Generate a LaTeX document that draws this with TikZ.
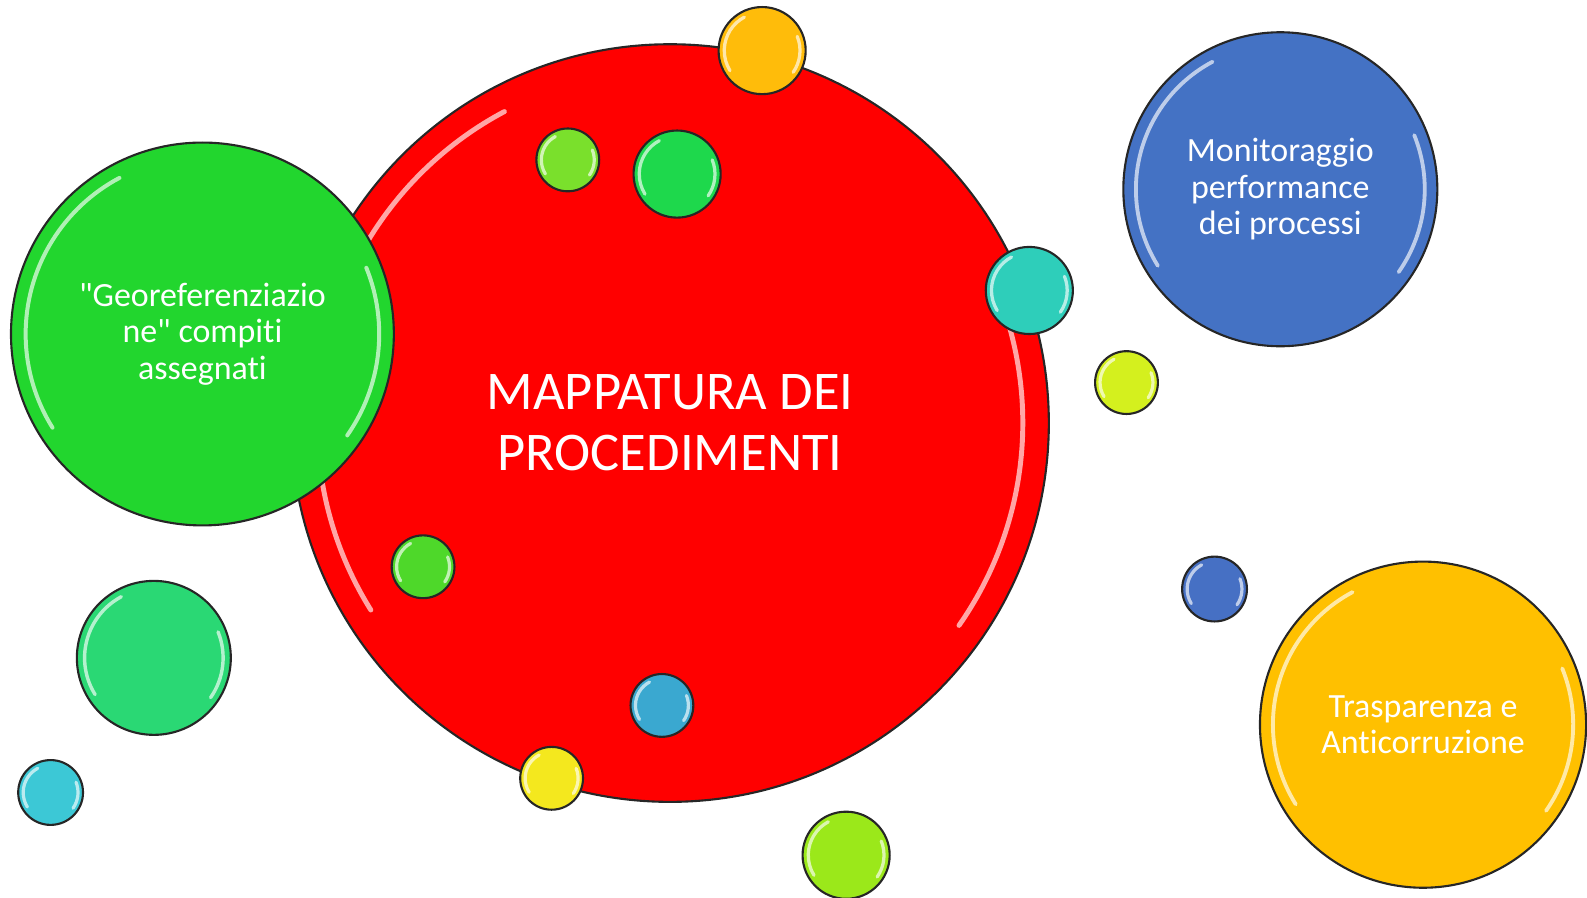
\documentclass[tikz,border=0pt]{standalone}
\usepackage{fontspec}
\setmainfont{Carlito}[Ligatures={NoCommon}]
\usetikzlibrary{calc}

\definecolor{mapred}{RGB}{255,0,0}
\definecolor{geogreen}{RGB}{34,214,46}
\definecolor{monblue}{RGB}{68,114,196}
\definecolor{traspgold}{RGB}{255,192,0}
\definecolor{dotgold}{RGB}{255,188,10}
\definecolor{dotlight}{RGB}{122,224,44}
\definecolor{dotgreen}{RGB}{30,216,76}
\definecolor{dotteal}{RGB}{46,206,186}
\definecolor{dotlime}{RGB}{212,240,30}
\definecolor{dotblue}{RGB}{70,112,196}
\definecolor{dotgrass}{RGB}{78,216,42}
\definecolor{dotmint}{RGB}{42,216,116}
\definecolor{dotcyan}{RGB}{60,200,214}
\definecolor{dotsky}{RGB}{58,168,208}
\definecolor{dotyellow}{RGB}{244,232,30}
\definecolor{dotapple}{RGB}{155,232,26}

\tikzset{
  gloss/.style={white, opacity=0.65, line cap=round},
  bubble/.style n args={2}{circle, fill=#1, draw=black!85, line width=0.6pt,
    inner sep=0pt, minimum size=#2*0.0202424cm, text=white, align=center,
    path picture={
      \draw[gloss, line width={(3+0.005*#2)*0.0101212cm}]
        ([shift={(118:{(0.94*#2-3)*0.0101212cm})}]path picture bounding box.center)
        arc[start angle=118, end angle=212, radius={(0.94*#2-3)*0.0101212cm}];
      \draw[gloss, line width={(3+0.005*#2)*0.0101212cm}]
        ([shift={(-35:{(0.94*#2-3)*0.0101212cm})}]path picture bounding box.center)
        arc[start angle=-35, end angle=22, radius={(0.94*#2-3)*0.0101212cm}];
    }},
  small text/.style={font=\fontsize{9.65}{10.4}\selectfont},
  big text/.style={font=\fontsize{15.5}{17.3}\selectfont}
}

\begin{document}
\begin{tikzpicture}[x=0.0101212cm, y=-0.0101212cm]
\useasboundingbox (0,0) rectangle (1568,887.25);

%main bubbles
\node [bubble={mapred}{374}, big text] (map) at (662,418) {MAPPATURA DEI\\PROCEDIMENTI};
\node [bubble={geogreen}{189}, small text] (geo) at (200,330) {\textquotedbl Georeferenziazio\\ne\textquotedbl{} compiti\\assegnati};
\node [bubble={monblue}{155}, small text] (mon) at (1265,187) {Monitoraggio\\performance\\dei processi};
\node [bubble={traspgold}{161}, small text] (trasp) at (1406,716) {Trasparenza e\\Anticorruzione};

%small bubbles
\node [bubble={dotgold}{43}] (gold) at (753,50) {};
\node [bubble={dotlight}{31}] (light) at (561,158) {};
\node [bubble={dotgreen}{43}] (green) at (669,172) {};
\node [bubble={dotteal}{43}] (teal) at (1017,287) {};
\node [bubble={dotlime}{31}] (lime) at (1113,378) {};
\node [bubble={dotblue}{32}] (blue) at (1200,582) {};
\node [bubble={dotgrass}{31}] (grass) at (418,560) {};
\node [bubble={dotmint}{76}] (mint) at (152,650) {};
\node [bubble={dotcyan}{32}] (cyan) at (50,783) {};
\node [bubble={dotsky}{31}] (sky) at (654,697) {};
\node [bubble={dotyellow}{31}] (yellow) at (545,769) {};
\node [bubble={dotapple}{43}] (apple) at (836,845) {};

\end{tikzpicture}
\end{document}
